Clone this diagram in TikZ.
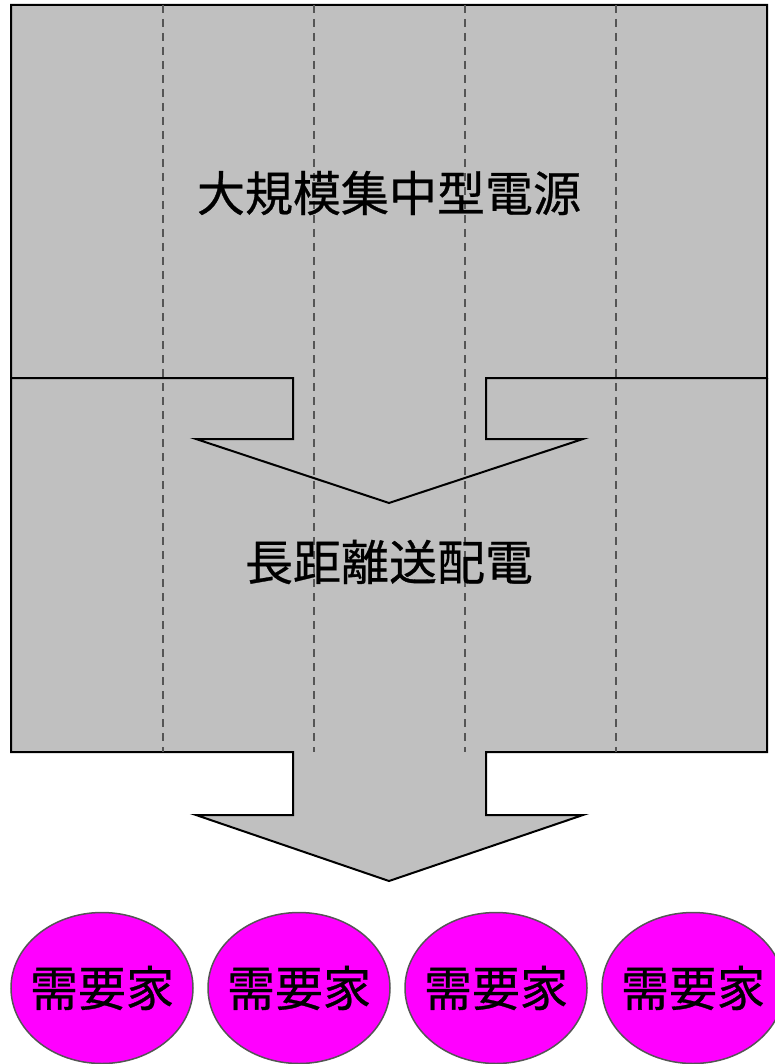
\documentclass[tikz,border=0pt]{standalone}
\usepackage{fontspec}
\newfontfamily\cjk[FakeBold=0.6]{Noto Sans CJK JP}
\usetikzlibrary{shapes.geometric}
\definecolor{blockgray}{HTML}{C0C0C0}
\definecolor{guidegray}{HTML}{555555}
\definecolor{userpink}{HTML}{FF00FF}

\begin{document}
\begin{tikzpicture}[x=1pt,y=-1pt,
    block/.style={fill=blockgray,draw=black,line width=2pt,line join=miter},
    guide/.style={guidegray,line width=2pt,dash pattern=on 8pt off 6pt},
    label/.style={font=\cjk\fontsize{48}{56}\selectfont,inner sep=0pt},
    user/.style={ellipse,fill=userpink,draw=guidegray,line width=1.5pt,minimum width=182pt,minimum height=151pt,inner sep=0pt,font=\cjk\fontsize{48}{56}\selectfont}]
    \useasboundingbox(0,0)rectangle(775,1064);

    \fill[blockgray](11,378)--(11,752)--(293,752)--(293,815)--(196,815)--(389,881)--(583,815)--(486,815)--(486,752)--(767,752)--(767,378)--cycle;
    \draw[black,line width=2pt](11,378)--(11,752)--(293,752)--(293,815)--(196,815)--(389,881)--(583,815)--(486,815)--(486,752)--(767,752)--(767,378);

    \draw[block](11,5)--(767,5)--(767,378)--(486,378)--(486,439)--(583,439)--(389,503)--(196,439)--(293,439)--(293,378)--(11,378)--cycle;

    \draw[guide](163,5)--(163,752);
    \draw[guide](314,5)--(314,752);
    \draw[guide](465,5)--(465,752);
    \draw[guide](616,5)--(616,752);

    \node[label](source)at(389,193){大規模集中型電源};
    \node[label](grid)at(389,562){長距離送配電};

    \node[user](user1)at(102,988){\makebox[0pt]{需要家}};
    \node[user](user2)at(299,988){\makebox[0pt]{需要家}};
    \node[user](user3)at(496,988){\makebox[0pt]{需要家}};
    \node[user](user4)at(693,988){\makebox[0pt]{需要家}};

\end{tikzpicture}
\end{document}
